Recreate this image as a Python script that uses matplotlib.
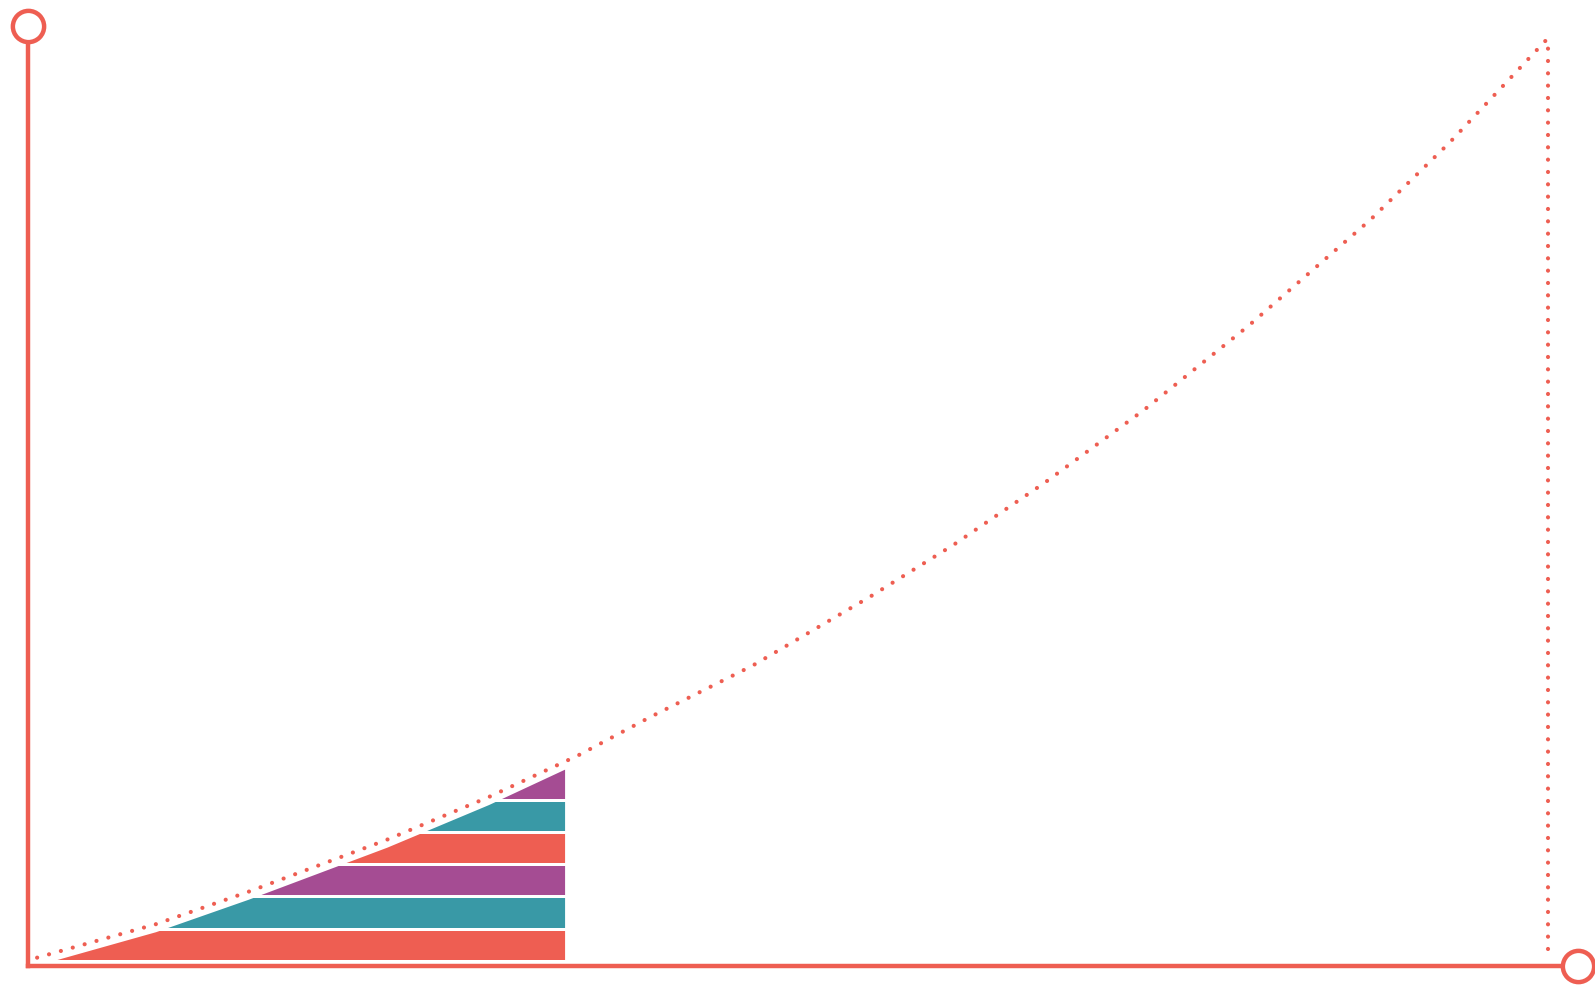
"""Area under a curve, split into horizontal coloured bands."""

import numpy as np
import matplotlib
matplotlib.use("Agg")
import matplotlib.pyplot as plt
from matplotlib.patches import Rectangle

# ── Data ─────────────────────────────────────────────────────────────────────

# dotted curve
curve_x = [0.06, 0.84, 1.45, 2.36, 3.03, 3.62, 4.09, 4.77, 5.54,
           6.09, 6.69, 7.34, 8.03, 8.83, 9.35, 10.0]
curve_y = [0.9, 4.5, 8.0, 13.6, 18.2, 22.7, 26.8, 32.4, 39.8,
           45.4, 52.1, 59.9, 69.0, 80.4, 88.7, 100.0]

# end of the interval (vertical dotted line)
interval_end = 10.0
interval_end_bottom = 1.8

# horizontal bands under the curve
band_right = 3.53
band_bottoms = [0.75, 4.2, 7.76, 11.2, 14.66, 18.1]
band_tops = [3.77, 7.33, 10.78, 14.2, 17.67, 23.0]

# ── Styling ──────────────────────────────────────────────────────────────────

RED = "#EE5E52"
TEAL = "#3999A6"
PURPLE = "#A54C93"
BAND_COLORS = [RED, TEAL, PURPLE, RED, TEAL, PURPLE]
CURVE_GAP = 0.8          # white gap between dotted curve and bands
AXIS_LW = 3.2
DOT_LW = 3.0
DOTS = (0, (0.01, 2.95))

X_MAX = 10.197
Y_MAX = 101.3

fig = plt.figure(figsize=(15.95, 9.86), dpi=100)
ax = fig.add_axes([28 / 1595, 20 / 986, 1550 / 1595, 940 / 986])
ax.set_xlim(0, X_MAX)
ax.set_ylim(0, Y_MAX)
ax.set_xticks([])
ax.set_yticks([])
for side in ("top", "right"):
    ax.spines[side].set_visible(False)
for side in ("left", "bottom"):
    ax.spines[side].set_color(RED)
    ax.spines[side].set_linewidth(AXIS_LW)
    ax.spines[side].set_capstyle("projecting")

# ── Bands ────────────────────────────────────────────────────────────────────

cx = np.array(curve_x)
cy = np.array(curve_y)
keep = cx < band_right
area_x = np.concatenate([cx[keep], [band_right]])
area_y = np.concatenate([cy[keep], [np.interp(band_right, cx, cy)]]) - CURVE_GAP

for lo, hi, color in zip(band_bottoms, band_tops, BAND_COLORS):
    poly = ax.fill_between(area_x, 0, area_y, color=color, lw=0, zorder=1)
    clip = Rectangle((0, lo), band_right, hi - lo, transform=ax.transData)
    poly.set_clip_path(clip)

# ── Dotted curve and interval end ────────────────────────────────────────────

ax.plot(curve_x, curve_y, color=RED, lw=DOT_LW, linestyle=DOTS,
        dash_capstyle="round", zorder=3, clip_on=False)
ax.plot([interval_end, interval_end], [interval_end_bottom, 100.0],
        color=RED, lw=DOT_LW, linestyle=DOTS, dash_capstyle="round",
        zorder=3, clip_on=False)

# ── Axis end circles ─────────────────────────────────────────────────────────

ax.plot([0, X_MAX], [Y_MAX, 0], linestyle="none", marker="o",
        markersize=22.5, markerfacecolor="white", markeredgecolor=RED,
        markeredgewidth=AXIS_LW, clip_on=False, zorder=5)

fig.savefig("out.png", dpi=100, facecolor="white")
